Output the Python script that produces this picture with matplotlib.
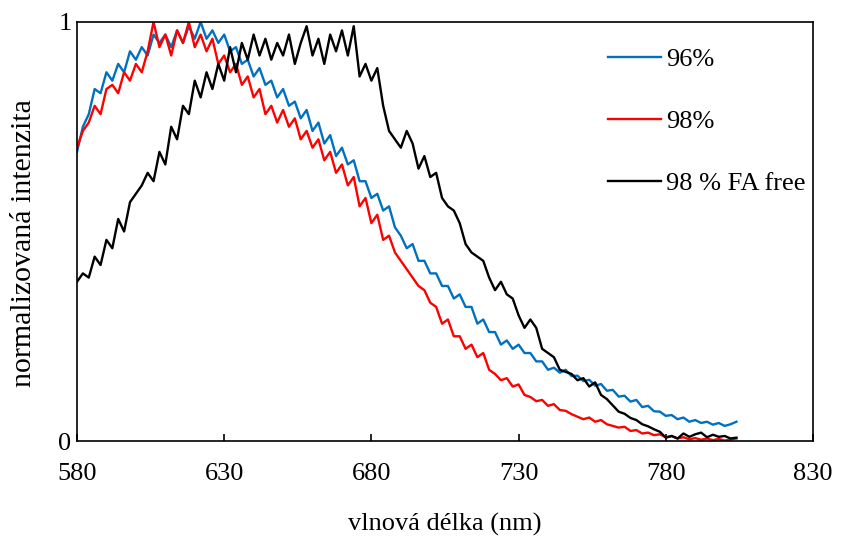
import numpy as np
import matplotlib.pyplot as plt

plt.rcParams['font.family'] = ['Liberation Serif', 'DejaVu Serif']

# wavelength grid (nm)
wl = np.arange(580, 806, 2)

s96 = [0.69, 0.75, 0.78, 0.84, 0.83, 0.88, 0.86, 0.90, 0.88, 0.93,
       0.91, 0.94, 0.92, 0.97, 0.95, 0.97, 0.94, 0.98, 0.95, 0.99,
       0.96, 1.00, 0.96, 0.98, 0.95, 0.97, 0.93, 0.94, 0.90, 0.91,
       0.87, 0.89, 0.85, 0.86, 0.82, 0.84, 0.80, 0.81, 0.77, 0.79,
       0.74, 0.76, 0.71, 0.73, 0.68, 0.70, 0.66, 0.67, 0.62, 0.62,
       0.58, 0.59, 0.55, 0.56, 0.51, 0.49, 0.46, 0.47, 0.43, 0.43,
       0.40, 0.40, 0.37, 0.37, 0.34, 0.35, 0.32, 0.32, 0.28, 0.29,
       0.26, 0.26, 0.23, 0.24, 0.22, 0.23, 0.21, 0.21, 0.19, 0.19,
       0.17, 0.175, 0.163, 0.17, 0.155, 0.156, 0.143, 0.146, 0.132, 0.136,
       0.12, 0.122, 0.106, 0.108, 0.094, 0.098, 0.081, 0.084, 0.071, 0.07,
       0.06, 0.062, 0.052, 0.056, 0.046, 0.05, 0.043, 0.046, 0.039, 0.043,
       0.036, 0.04, 0.046]

s98 = [0.70, 0.74, 0.76, 0.80, 0.78, 0.84, 0.85, 0.83, 0.88, 0.86,
       0.90, 0.88, 0.93, 1.00, 0.94, 0.97, 0.92, 0.98, 0.95, 1.00,
       0.94, 0.97, 0.93, 0.96, 0.90, 0.92, 0.88, 0.90, 0.85, 0.87,
       0.82, 0.84, 0.78, 0.80, 0.76, 0.79, 0.75, 0.77, 0.72, 0.74,
       0.70, 0.72, 0.67, 0.69, 0.64, 0.66, 0.61, 0.63, 0.56, 0.58,
       0.52, 0.54, 0.48, 0.49, 0.45, 0.43, 0.41, 0.39, 0.37, 0.36,
       0.33, 0.32, 0.28, 0.29, 0.25, 0.25, 0.22, 0.23, 0.20, 0.21,
       0.17, 0.16, 0.145, 0.15, 0.13, 0.135, 0.11, 0.105, 0.095, 0.098,
       0.084, 0.088, 0.074, 0.072, 0.064, 0.058, 0.052, 0.056, 0.046, 0.05,
       0.04, 0.036, 0.032, 0.034, 0.024, 0.026, 0.018, 0.02, 0.014, 0.016,
       0.009, 0.012, 0.006, 0.009, 0.004, 0.007, 0.003, 0.006, 0.002, 0.005,
       0.001, 0.004, 0.006]

s98fa = [0.38, 0.40, 0.39, 0.44, 0.42, 0.48, 0.46, 0.53, 0.50, 0.57,
         0.59, 0.61, 0.64, 0.62, 0.69, 0.66, 0.75, 0.72, 0.80, 0.78,
         0.86, 0.82, 0.88, 0.84, 0.90, 0.86, 0.94, 0.88, 0.95, 0.91,
         0.97, 0.92, 0.96, 0.91, 0.95, 0.92, 0.97, 0.90, 0.95, 0.99,
         0.92, 0.96, 0.90, 0.97, 0.93, 0.98, 0.92, 0.99, 0.87, 0.90,
         0.86, 0.89, 0.80, 0.74, 0.72, 0.70, 0.74, 0.71, 0.65, 0.68,
         0.63, 0.64, 0.58, 0.56, 0.55, 0.52, 0.47, 0.45, 0.44, 0.43,
         0.39, 0.36, 0.38, 0.35, 0.34, 0.30, 0.27, 0.29, 0.27, 0.22,
         0.21, 0.20, 0.17, 0.165, 0.16, 0.145, 0.15, 0.13, 0.14, 0.11,
         0.10, 0.085, 0.07, 0.065, 0.055, 0.05, 0.04, 0.035, 0.028, 0.022,
         0.008, 0.012, 0.006, 0.018, 0.01, 0.016, 0.02, 0.009, 0.015, 0.01,
         0.012, 0.006, 0.008]

labels = ['96%', '98%', '98 % FA free']
colors = ['#0070C0', '#FF0000', 'black']

fig = plt.figure(figsize=(8.48, 5.39), dpi=100)
ax = fig.add_axes([0.0908, 0.1818, 0.8679, 0.7774])

for y, lab, c in zip([s96, s98, s98fa], labels, colors):
    ax.plot(wl, y, color=c, lw=1.7, label=lab)

ax.set_xlim(580, 830)
ax.set_ylim(0, 1)
ax.set_xticks(np.arange(580, 831, 50))
ax.set_yticks([0, 1])
ax.set_yticklabels(['0', '1'])
ax.tick_params(axis='x', direction='in', length=5, width=1.2, labelsize=19, pad=16)
ax.tick_params(axis='y', length=0, labelsize=19, pad=4)
for sp in ax.spines.values():
    sp.set_linewidth(1.2)

ax.set_xlabel('vlnová délka (nm)', fontsize=19, labelpad=20)
ax.set_ylabel('normalizovaná intenzita', fontsize=21.5)
ax.yaxis.set_label_coords(-0.055, 0.472)

ax.legend(loc='upper left', bbox_to_anchor=(0.689, 0.995), frameon=False,
          fontsize=19, labelspacing=1.46, handlelength=2.0, handletextpad=0.2)

fig.savefig('out.png', dpi=100)
